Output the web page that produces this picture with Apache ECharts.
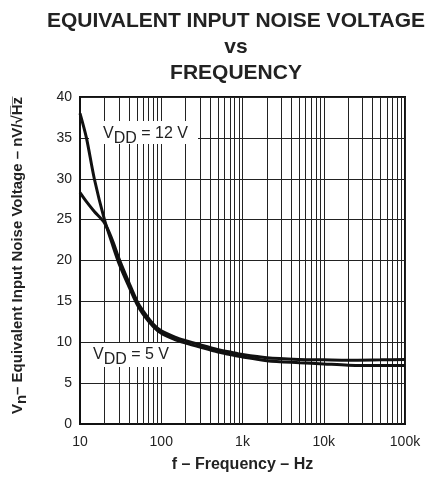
<!DOCTYPE html>
<html>
<head>
<meta charset="utf-8">
<script src="https://cdn.jsdelivr.net/npm/echarts@6/dist/echarts.min.js"></script>
<style>
html,body{margin:0;padding:0;background:#fff;}
#c{width:429px;height:478px;}
</style>
</head>
<body>
<div id="c"></div>
<script>
// ---- data ----
const freq12 = [10, 12, 15, 20, 25, 30, 40, 50, 60, 80, 100, 150, 200, 300, 500, 700, 1000, 2000, 5000, 10000, 20000, 50000, 100000];
const noise12 = [38.0, 35.0, 30.0, 25.0, 22.0, 19.7, 16.8, 14.7, 13.4, 11.9, 11.1, 10.3, 9.9, 9.4, 8.8, 8.5, 8.2, 7.75, 7.5, 7.35, 7.2, 7.15, 7.15];
const freq5 = [10, 12, 15, 20, 25, 30, 40, 50, 60, 80, 100, 150, 200, 300, 500, 700, 1000, 2000, 5000, 10000, 20000, 50000, 100000];
const noise5 = [28.3, 27.2, 26.0, 24.6, 22.5, 20.3, 17.3, 15.1, 13.8, 12.2, 11.4, 10.6, 10.2, 9.7, 9.1, 8.8, 8.5, 8.1, 7.9, 7.85, 7.8, 7.85, 7.9];
const xTickValues = [10, 100, 1000, 10000, 100000];
const xTickLabels = ['10', '100', '1k', '10k', '100k'];
const decades = [10, 100, 1000, 10000];
const multipliers = [2, 3, 4, 5, 6, 7, 8, 9];
const titleLines = ['EQUIVALENT INPUT NOISE VOLTAGE', 'vs', 'FREQUENCY'];

const FONT = 'Liberation Sans, Arial, Helvetica, sans-serif';
const minorLines = [];
decades.forEach(d => multipliers.forEach(m => minorLines.push({ xAxis: d * m })));

const chart = echarts.init(document.getElementById('c'), null, { renderer: 'canvas' });

const labelRich = {
  v: { fontSize: 16, fontFamily: FONT, fill: '#222', color: '#222' },
  s: { fontSize: 16, fontFamily: FONT, fill: '#222', color: '#222', padding: [10, 0, 0, 0] }
};

function curveLabel(box, tx, ty, text) {
  return {
    type: 'group', z: 3,
    children: [
      { type: 'rect', z: 3, shape: { x: box[0], y: box[1], width: box[2], height: box[3] }, style: { fill: '#fff' } },
      { type: 'text', z: 4, x: tx, y: ty, style: { text: text, rich: labelRich, fill: '#222', verticalAlign: 'top' } }
    ]
  };
}

chart.setOption({
  backgroundColor: '#fff',
  animation: false,
  grid: { left: 80, right: 24, top: 97, bottom: 53, show: true, borderColor: '#111', borderWidth: 2, backgroundColor: 'transparent' },
  xAxis: {
    type: 'log', logBase: 10, min: 10, max: 100000,
    name: 'f – Frequency – Hz', nameLocation: 'middle', nameGap: 33,
    nameTextStyle: { fontFamily: FONT, fontWeight: 'bold', fontSize: 16, color: '#222' },
    axisLine: { lineStyle: { color: '#111', width: 2 } },
    axisTick: { show: false },
    splitLine: { show: true, lineStyle: { color: '#222', width: 1 } },
    axisLabel: {
      fontFamily: FONT, fontSize: 14, color: '#222', margin: 11,
      formatter: v => { const i = xTickValues.indexOf(Math.round(v)); return i >= 0 ? xTickLabels[i] : ''; }
    }
  },
  yAxis: {
    type: 'value', min: 0, max: 40, interval: 5,
    name: '{b|V}{n|n}{b|– Equivalent Input Noise Voltage – nV/√H\u0305z\u0305}',
    nameLocation: 'middle', nameRotate: 90, nameGap: 51,
    nameTextStyle: {
      padding: [0, 0, 0, 10],
      rich: {
        b: { fontFamily: FONT, fontWeight: 'bold', fontSize: 15, color: '#222' },
        n: { fontFamily: FONT, fontWeight: 'bold', fontSize: 15, color: '#222', padding: [8, 0, 0, 0] }
      }
    },
    axisLine: { lineStyle: { color: '#111', width: 2 } },
    axisTick: { show: false },
    splitLine: { show: true, lineStyle: { color: '#222', width: 1 } },
    axisLabel: { fontFamily: FONT, fontSize: 14, color: '#222', margin: 8 }
  },
  series: [
    {
      name: 'grid', type: 'line', data: [], z: 1, silent: true,
      markLine: {
        z: 1, silent: true, symbol: 'none', label: { show: false },
        lineStyle: { color: '#222', width: 1, type: 'solid' },
        data: minorLines
      }
    },
    {
      name: 'VDD = 12 V', type: 'line', z: 5, smooth: 0.3, showSymbol: false,
      lineStyle: { color: '#111', width: 3 },
      data: freq12.map((f, i) => [f, noise12[i]])
    },
    {
      name: 'VDD = 5 V', type: 'line', z: 5, smooth: 0.3, showSymbol: false,
      lineStyle: { color: '#111', width: 3 },
      data: freq5.map((f, i) => [f, noise5[i]])
    }
  ],
  graphic: [
    {
      type: 'text', x: 236, y: 8, z: 6,
      style: {
        text: titleLines.join('\n'), fill: '#222', align: 'center', verticalAlign: 'top',
        font: 'bold 21px ' + FONT, lineHeight: 26
      }
    },
    curveLabel([89, 121, 109, 23], 103, 121, '{v|V}{s|DD}{v| = 12 V}'),
    curveLabel([81, 343, 104, 24], 93, 342, '{v|V}{s|DD}{v| = 5 V}')
  ]
});
</script>
</body>
</html>
